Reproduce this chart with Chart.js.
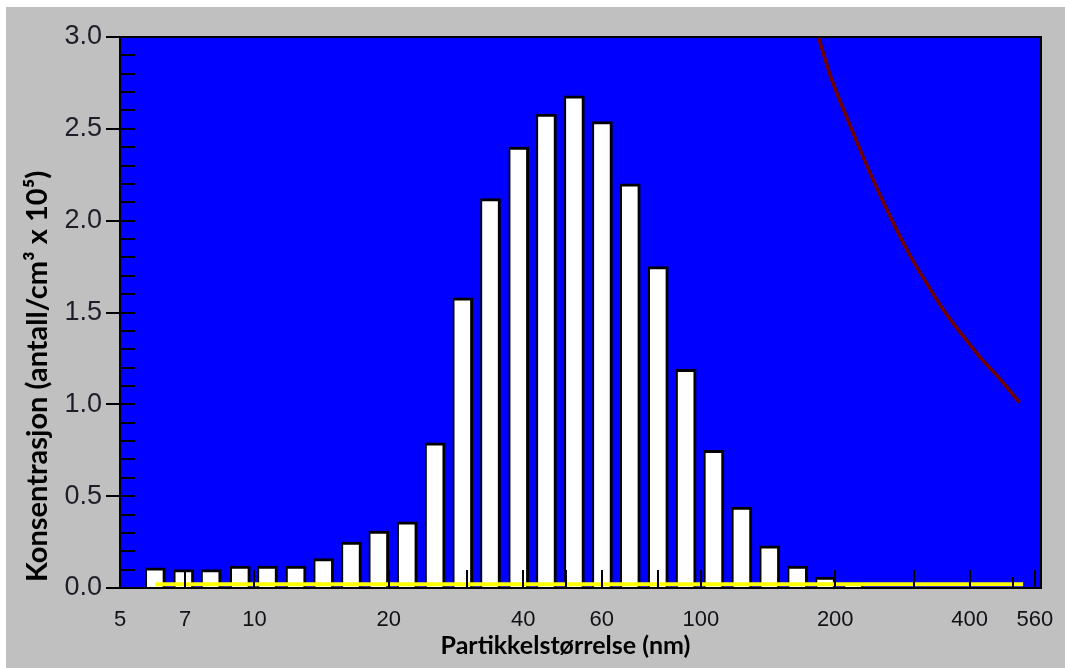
<!DOCTYPE html>
<html>
<head>
<meta charset="utf-8">
<script src="https://cdn.jsdelivr.net/npm/chart.js@4.4.1/dist/chart.umd.min.js"></script>
<style>
  html, body { margin: 0; padding: 0; background: #ffffff; }
  #wrap { position: absolute; left: 0; top: 0; width: 1065px; height: 668px; }
</style>
</head>
<body>
<div id="wrap"><canvas id="sizeChart" width="1065" height="668"></canvas></div>
<script>
// particle size bins (nm) and concentration (antall/cm3 x 10^5)
const binSizes = [6.0, 6.95, 8.0, 9.3, 10.7, 12.4, 14.3, 16.5, 19.0, 22.0, 25.4, 29.3, 33.8,
  39.1, 45.1, 52.1, 60.2, 69.5, 80.3, 92.7, 107, 123.6, 142.7, 164.8, 190.3, 219.8];
const concentrations = [0.11, 0.10, 0.10, 0.12, 0.12, 0.12, 0.16, 0.25, 0.31, 0.36, 0.79, 1.58, 2.12,
  2.40, 2.58, 2.68, 2.54, 2.20, 1.75, 1.19, 0.75, 0.44, 0.23, 0.12, 0.06, 0.03];

// yellow base line
const baseLineX = [6.0, 527];
const baseLineY = [0.02, 0.02];

// dark red curve in the upper right
const curveX = [183.4, 195.6, 213.3, 230.7, 255.3, 292.7, 320.4, 349.2, 388.8, 424.4, 463.3, 517.6];
const curveY = [3.0, 2.78, 2.55, 2.35, 2.11, 1.82, 1.66, 1.515, 1.365, 1.25, 1.15, 1.01];

// axes
const xTickLabels = [5, 7, 10, 20, 40, 60, 100, 200, 400, 560];
const xTickMarks = [7, 10, 20, 30, 40, 50, 60, 80, 100, 200, 300, 400, 500, 560];
const xShortTicks = [500];
const xMin = 5;
const xMax = 578;
const yMin = 0;
const yMax = 3.0;
const yMinorStep = 0.1;

const xTitle = "Partikkelstørrelse (nm)";
const yTitle = "Konsentrasjon (antall/cm³ x 10⁵)";

function toPoints(xs, ys) {
  return xs.map((x, i) => ({ x: x, y: ys[i] }));
}

const backdrop = {
  id: "backdrop",
  beforeDraw(chart) {
    const { ctx, chartArea } = chart;
    ctx.save();
    ctx.fillStyle = "#ffffff";
    ctx.fillRect(0, 0, chart.width, chart.height);
    ctx.fillStyle = "#c0c0c0";
    ctx.fillRect(6, 7, chart.width - 6, chart.height - 7);
    ctx.fillStyle = "#0000ff";
    ctx.fillRect(chartArea.left, chartArea.top, chartArea.right - chartArea.left, chartArea.bottom - chartArea.top);
    ctx.restore();
  }
};

const tickMarks = {
  id: "tickMarks",
  afterDatasetsDraw(chart) {
    const { ctx, chartArea, scales } = chart;
    const x = scales.x;
    const y = scales.y;
    ctx.save();
    ctx.strokeStyle = "#000000";
    ctx.lineWidth = 2;
    ctx.beginPath();
    // minor ticks on the y axis, inside the plot
    const n = Math.round((yMax - yMin) / yMinorStep);
    for (let i = 1; i < n; i++) {
      const py = Math.round(y.getPixelForValue(yMin + i * yMinorStep));
      ctx.moveTo(chartArea.left, py);
      ctx.lineTo(chartArea.left + 15, py);
    }
    // ticks on the x axis, inside the plot
    xTickMarks.forEach((v) => {
      const px = Math.round(x.getPixelForValue(v));
      const len = xShortTicks.includes(v) ? 11 : 18;
      ctx.moveTo(px, chartArea.bottom);
      ctx.lineTo(px, chartArea.bottom - len);
    });
    ctx.stroke();

    // frame top and right
    ctx.beginPath();
    ctx.moveTo(chartArea.left, chartArea.top);
    ctx.lineTo(chartArea.right, chartArea.top);
    ctx.lineTo(chartArea.right, chartArea.bottom);
    ctx.stroke();
    ctx.restore();
  }
};

// axis titles, placed like in the original software export
const axisTitles = {
  id: "axisTitles",
  afterDraw(chart) {
    const { ctx, chartArea } = chart;
    ctx.save();
    ctx.fillStyle = "#000000";
    ctx.font = "bold 25px Lato";
    ctx.textAlign = "center";
    ctx.textBaseline = "middle";
    ctx.fillText(xTitle, (chartArea.left + chartArea.right) / 2 - 15, 646);

    ctx.translate(38, chartArea.bottom - 6);
    ctx.rotate(-Math.PI / 2);
    ctx.font = "bold 29px Lato";
    ctx.textAlign = "left";
    ctx.fillText(yTitle, 0, 0);
    ctx.restore();
  }
};

const ctx = document.getElementById("sizeChart").getContext("2d");

new Chart(ctx, {
  type: "bar",
  data: {
    datasets: [
      {
        type: "line",
        data: toPoints(curveX, curveY),
        borderColor: "#6e0000",
        borderWidth: 3.5,
        pointRadius: 0,
        cubicInterpolationMode: "monotone",
        order: 0
      },
      {
        type: "line",
        data: toPoints(baseLineX, baseLineY),
        borderColor: "#ffff00",
        borderWidth: 4,
        pointRadius: 0,
        order: 1
      },
      {
        type: "bar",
        data: toPoints(binSizes, concentrations),
        backgroundColor: "#ffffff",
        borderColor: "#000000",
        borderWidth: { top: 3, right: 3, left: 2, bottom: 0 },
        borderSkipped: "start",
        barThickness: 20,
        order: 2
      }
    ]
  },
  options: {
    responsive: false,
    animation: false,
    devicePixelRatio: 1,
    layout: {
      padding: { top: 37, right: 24, left: 0, bottom: 0 }
    },
    plugins: {
      legend: { display: false },
      tooltip: { enabled: false }
    },
    scales: {
      x: {
        type: "logarithmic",
        min: xMin,
        max: xMax,
        offset: false,
        afterBuildTicks(scale) {
          scale.ticks = xTickLabels.map((v) => ({ value: v }));
        },
        afterFit(scale) {
          scale.height = 80;
          scale.paddingLeft = 0;
          scale.paddingRight = 0;
        },
        ticks: {
          autoSkip: false,
          maxRotation: 0,
          padding: 19,
          color: "#111118",
          font: { family: "Liberation Sans", size: 22 },
          callback: (v) => String(v)
        },
        grid: {
          offset: false,
          drawOnChartArea: false,
          drawTicks: false
        },
        border: { color: "#000000", width: 2 }
      },
      y: {
        type: "linear",
        min: yMin,
        max: yMax,
        afterFit(scale) {
          scale.width = 120;
        },
        ticks: {
          stepSize: 0.5,
          padding: 4,
          color: "#1e1e28",
          font: { family: "Liberation Sans", size: 27 },
          callback: (v) => v.toFixed(1)
        },
        grid: {
          drawOnChartArea: false,
          drawTicks: true,
          tickLength: 14,
          color: "#000000",
          lineWidth: 2
        },
        border: { color: "#000000", width: 2 }
      }
    }
  },
  plugins: [backdrop, tickMarks, axisTitles]
});
</script>
</body>
</html>
